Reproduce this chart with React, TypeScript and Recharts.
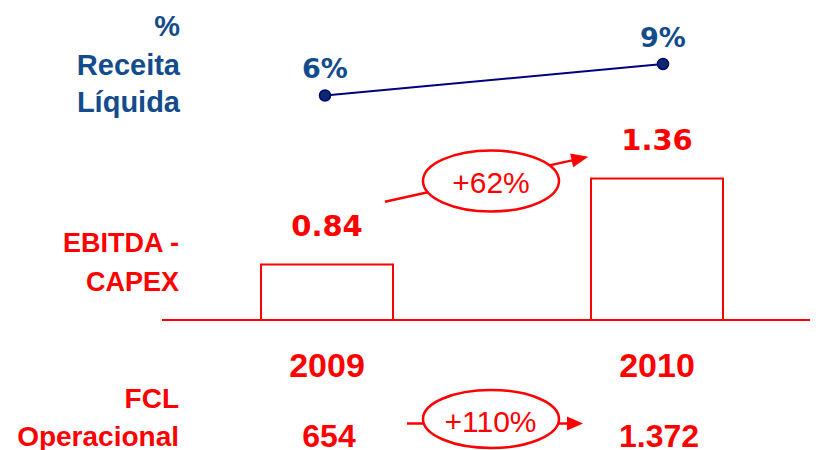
import { ComposedChart, Bar, Line, XAxis, YAxis, LabelList } from "recharts";

const years = ["2009", "2010"];
const ebitdaCapex = [0.84, 1.36];
const netRevenuePct = [6, 9];
const fclOperacional = [654, 1372];

const RED = "#FF0000";
const BLUE = "#134C8C";
const NAVY = "#000080";

const data = years.map((year, i) => ({
  year,
  ebitda: ebitdaCapex[i],
  pct: netRevenuePct[i],
}));

const fmtThousands = (n: number) => String(n).replace(/\B(?=(\d{3})+(?!\d))/g, ".");

const YearTick = (props: any) => {
  const { x, y, payload, index } = props;
  return (
    <g>
      <text x={x} y={y + 57} textAnchor="middle" fill={RED} fontSize={34} fontWeight="bold"
        fontFamily="'Liberation Sans', Arial, sans-serif">
        {payload.value}
      </text>
      <text x={x + 2} y={y + 127} textAnchor="middle" fill={RED} fontSize={32} fontWeight="bold"
        fontFamily="'Liberation Sans', Arial, sans-serif">
        {fmtThousands(fclOperacional[index])}
      </text>
    </g>
  );
};

const rowLabel = { fontFamily: "'Liberation Sans', Arial, sans-serif", fontWeight: "bold" as const, textAnchor: "end" as const };

export default function App() {
  return (
    <div style={{ width: 802, height: 442, position: "relative", background: "#fff" }}>
      <ComposedChart width={802} height={442} data={data} margin={{ top: 0, right: -12, bottom: 0, left: 154 }}>
        <XAxis
          dataKey="year"
          xAxisId="bar"
          height={130}
          axisLine={{ stroke: RED, strokeWidth: 2 }}
          tickLine={false}
          tickSize={0}
          tickMargin={0}
          tick={YearTick}
          interval={0}
        />
        <XAxis dataKey="year" xAxisId="line" type="category" scale="point" padding={{ left: 163, right: 159 }} hide />
        <YAxis yAxisId="bar" type="number" domain={[0.5045, 2.391]} hide />
        <YAxis yAxisId="line" type="number" domain={[-15.38, 14.33]} hide />
        <Bar dataKey="ebitda" xAxisId="bar" yAxisId="bar" barSize={132} fill="#fff" stroke={RED} strokeWidth={2} isAnimationActive={false}>
          <LabelList dataKey="ebitda" position="top" offset={29} fill={RED} fontSize={29} fontWeight="bold"
            fontFamily="'DejaVu Sans', Verdana, sans-serif" formatter={(v: any) => Number(v).toFixed(2)} />
        </Bar>
        <Line dataKey="pct" xAxisId="line" yAxisId="line" stroke={NAVY} strokeWidth={2}
          dot={{ r: 5.5, fill: "#0B2A66", stroke: NAVY, strokeWidth: 1.5 }} isAnimationActive={false}>
          <LabelList dataKey="pct" position="top" offset={17} fill={BLUE} fontSize={27} fontWeight="bold"
            fontFamily="'DejaVu Sans', Verdana, sans-serif" formatter={(v: any) => `${v}%`} />
        </Line>
      </ComposedChart>
      <svg width={802} height={442} style={{ position: "absolute", left: 0, top: 0, pointerEvents: "none" }}>
        <g transform="translate(-8,-8)">
          <g fill={BLUE} fontSize={29} {...rowLabel}>
            <text x={180} y={36}>%</text>
            <text x={180} y={75}>Receita</text>
            <text x={180} y={112}>Líquida</text>
          </g>
          <g fill={RED} fontSize={27} {...rowLabel}>
            <text x={179} y={252}>EBITDA -</text>
            <text x={179} y={291}>CAPEX</text>
          </g>
          <g fill={RED} fontSize={28} {...rowLabel}>
            <text x={179} y={408}>FCL</text>
            <text x={179} y={446}>Operacional</text>
          </g>
          {/* +62% growth marker */}
          <line x1={385} y1={201.7} x2={572} y2={160.4} stroke={RED} strokeWidth={2.5} />
          <polygon points="588.3,156.7 573.2,167.2 570.2,153.6" fill={RED} />
          <ellipse cx={491} cy={181} rx={68} ry={30.5} fill="#fff" stroke={RED} strokeWidth={2.5} />
          <text x={491} y={193} textAnchor="middle" fill={RED} fontSize={30} fontFamily="'Liberation Sans', Arial, sans-serif">+62%</text>
          {/* +110% growth marker */}
          <line x1={407} y1={423.5} x2={568} y2={423.5} stroke={RED} strokeWidth={2.5} />
          <polygon points="583,423.5 567,416.5 567,430.5" fill={RED} />
          <ellipse cx={491} cy={419} rx={68} ry={29} fill="#fff" stroke={RED} strokeWidth={2.5} />
          <text x={490.5} y={431.5} textAnchor="middle" fill={RED} fontSize={30} fontFamily="'Liberation Sans', Arial, sans-serif">+110%</text>
        </g>
      </svg>
    </div>
  );
}
